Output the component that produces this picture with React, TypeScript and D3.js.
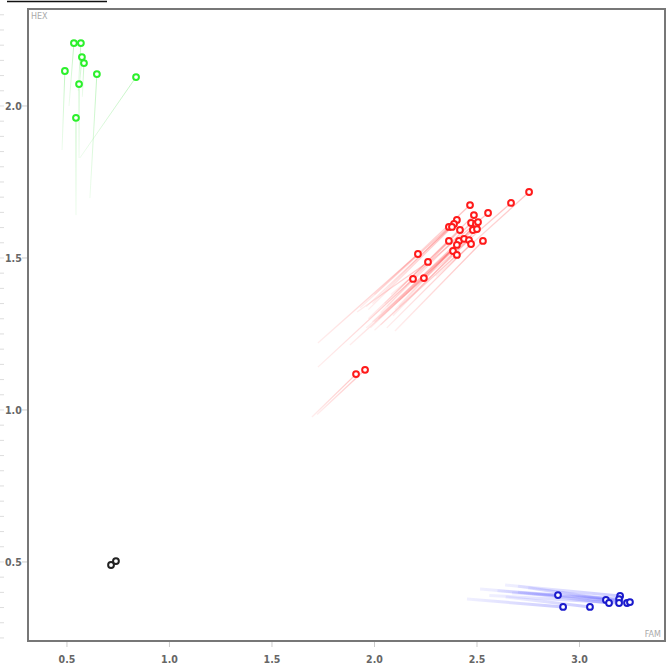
import * as d3 from "d3";
import {useEffect, useRef} from "react";

// current positions (FAM, HEX) and where each trail starts
const redX = [2.754, 2.666, 2.466, 2.554, 2.485, 2.402, 2.388, 2.363, 2.378, 2.417, 2.471, 2.495, 2.505, 2.480, 2.500, 2.363, 2.412, 2.437, 2.461, 2.471, 2.529, 2.402, 2.383, 2.402, 2.212, 2.261, 2.188, 2.241, 1.910, 1.954];
const redY = [1.717, 1.681, 1.674, 1.648, 1.641, 1.625, 1.612, 1.602, 1.602, 1.592, 1.615, 1.612, 1.618, 1.592, 1.595, 1.556, 1.556, 1.563, 1.559, 1.546, 1.556, 1.543, 1.523, 1.510, 1.513, 1.487, 1.431, 1.434, 1.118, 1.132];
const redX0 = [2.30, 2.12, 2.00, 2.08, 2.05, 1.99, 1.96, 1.93, 1.97, 2.03, 2.06, 2.10, 2.12, 2.02, 2.09, 1.97, 2.00, 1.98, 2.03, 2.06, 2.10, 1.99, 1.96, 2.00, 1.724, 1.915, 1.724, 1.880, 1.695, 1.720];
const redY0 = [1.440, 1.360, 1.380, 1.380, 1.350, 1.350, 1.340, 1.336, 1.330, 1.320, 1.340, 1.330, 1.340, 1.300, 1.310, 1.300, 1.290, 1.270, 1.280, 1.270, 1.260, 1.290, 1.270, 1.262, 1.220, 1.322, 1.141, 1.214, 0.977, 0.985];

const greenX = [0.534, 0.568, 0.573, 0.583, 0.490, 0.646, 0.559, 0.837, 0.544];
const greenY = [2.207, 2.207, 2.161, 2.141, 2.115, 2.105, 2.072, 2.095, 1.961];
const greenX0 = [0.510, 0.555, 0.560, 0.575, 0.476, 0.612, 0.559, 0.563, 0.544];
const greenY0 = [2.000, 2.050, 2.060, 2.030, 1.855, 1.697, 1.829, 1.829, 1.641];

const blueX = [2.895, 2.920, 3.051, 3.129, 3.144, 3.198, 3.193, 3.193, 3.232, 3.246];
const blueY = [0.391, 0.352, 0.352, 0.375, 0.365, 0.388, 0.378, 0.365, 0.365, 0.368];
const blueX0 = [2.600, 2.451, 2.640, 2.515, 2.700, 2.637, 2.671, 2.560, 2.750, 2.700];
const blueY0 = [0.405, 0.378, 0.385, 0.411, 0.400, 0.424, 0.398, 0.390, 0.415, 0.420];

const blackX = [0.715, 0.739];
const blackY = [0.490, 0.503];

const xTicks = [0.5, 1.0, 1.5, 2.0, 2.5, 3.0];
const yTicks = [0.5, 1.0, 1.5, 2.0];

export default function App() {
  const svgRef = useRef<SVGSVGElement | null>(null);

  useEffect(() => {
    const width = 668;
    const height = 670;
    const left = 28, right = 665, top = 9, bottom = 641;

    const svg = d3.select(svgRef.current)
        .attr("width", width)
        .attr("height", height);
    svg.selectAll("*").remove();

    const x = d3.scaleLinear().domain([0.31, 3.417]).range([left, right]);
    const y = d3.scaleLinear().domain([0.240, 2.319]).range([bottom, top]);

    svg.append("rect").attr("width", width).attr("height", height).attr("fill", "#fff");

    // stray line at the very top
    svg.append("line")
        .attr("x1", 7).attr("x2", 107).attr("y1", 1.5).attr("y2", 1.5)
        .attr("stroke", "#111").attr("stroke-width", 1.5);

    // faint minor ticks on the far left
    const minor = d3.range(0.25, 2.35, 0.05);
    svg.append("g").selectAll("line")
        .data(minor)
        .enter().append("line")
        .attr("x1", 0).attr("x2", 4)
        .attr("y1", d => y(d)).attr("y2", d => y(d))
        .attr("stroke", "#ddd");

    const font = "'DejaVu Sans Condensed', 'DejaVu Sans', sans-serif";

    // y ticks
    const yg = svg.append("g");
    yg.selectAll("line").data(yTicks).enter().append("line")
        .attr("x1", left - 6).attr("x2", left)
        .attr("y1", d => y(d)).attr("y2", d => y(d))
        .attr("stroke", "#ccc");
    yg.selectAll("text").data(yTicks).enter().append("text")
        .attr("x", 5).attr("y", d => y(d) + 4)
        .attr("font-family", font).attr("font-size", 10.5)
        .attr("font-weight", "bold")
        .attr("fill", "#666")
        .text(d => d.toFixed(1));

    // x ticks
    const xg = svg.append("g");
    xg.selectAll("line").data(xTicks).enter().append("line")
        .attr("x1", d => x(d)).attr("x2", d => x(d))
        .attr("y1", bottom).attr("y2", bottom + 6)
        .attr("stroke", "#ccc");
    xg.selectAll("text").data(xTicks).enter().append("text")
        .attr("x", d => x(d)).attr("y", 663)
        .attr("text-anchor", "middle")
        .attr("font-family", font).attr("font-size", 10.5)
        .attr("font-weight", "bold")
        .attr("fill", "#666")
        .text(d => d.toFixed(1));

    const defs = svg.append("defs");
    const plot = svg.append("g");

    const groups = [
      {xs: redX, ys: redY, x0: redX0, y0: redY0, trail: "#ff5050", w: 1.3},
      {xs: greenX, ys: greenY, x0: greenX0, y0: greenY0, trail: "#50e050", w: 1},
      {xs: blueX, ys: blueY, x0: blueX0, y0: blueY0, trail: "#6a6aff", w: 3},
    ];

    let gid = 0;
    groups.forEach(g => {
      g.xs.forEach((_, i) => {
        const id = "tr" + (gid++);
        const x1 = x(g.x0[i]), y1 = y(g.y0[i]), x2 = x(g.xs[i]), y2 = y(g.ys[i]);
        const grad = defs.append("linearGradient")
            .attr("id", id)
            .attr("gradientUnits", "userSpaceOnUse")
            .attr("x1", x1).attr("y1", y1).attr("x2", x2).attr("y2", y2);
        grad.append("stop").attr("offset", "0%").attr("stop-color", g.trail).attr("stop-opacity", 0.1);
        grad.append("stop").attr("offset", "100%").attr("stop-color", g.trail).attr("stop-opacity", 0.35);
        plot.append("line")
            .attr("x1", x1).attr("y1", y1).attr("x2", x2).attr("y2", y2)
            .attr("stroke", `url(#${id})`)
            .attr("stroke-width", g.w);
      });
    });

    const pts = [
      {xs: redX, ys: redY, color: "#ff1a1a"},
      {xs: greenX, ys: greenY, color: "#2cf02c"},
      {xs: blueX, ys: blueY, color: "#1a1acc"},
      {xs: blackX, ys: blackY, color: "#222"},
    ];
    pts.forEach(p => {
      plot.append("g").selectAll("circle")
          .data(p.xs.map((v, i) => [v, p.ys[i]]))
          .enter().append("circle")
          .attr("cx", d => x(d[0])).attr("cy", d => y(d[1]))
          .attr("r", 2.9)
          .attr("fill", "#fff")
          .attr("stroke", p.color)
          .attr("stroke-width", 2);
    });

    // frame
    svg.append("rect")
        .attr("x", left).attr("y", top)
        .attr("width", right - left).attr("height", bottom - top)
        .attr("fill", "none")
        .attr("stroke", "#777")
        .attr("stroke-width", 2);

    svg.append("text")
        .attr("x", left + 3).attr("y", top + 10)
        .attr("font-family", "'DejaVu Sans', sans-serif").attr("font-size", 8)
        .attr("fill", "#aaa").text("HEX");
    svg.append("text")
        .attr("x", right - 4).attr("y", bottom - 4)
        .attr("text-anchor", "end")
        .attr("font-family", "'DejaVu Sans', sans-serif").attr("font-size", 8)
        .attr("fill", "#aaa").text("FAM");
  }, []);

  return (
      <svg ref={svgRef} style={{position: "absolute", left: 0, top: 0}}></svg>
  );
}
